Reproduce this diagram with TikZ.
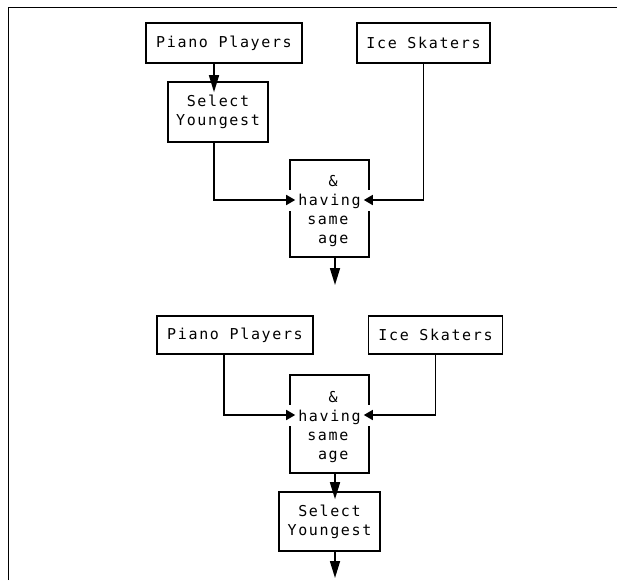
\documentclass[tikz,border=0pt]{standalone}
\usepackage{fontspec}
\setmonofont[LetterSpace=11]{DejaVu Sans Mono}
\usetikzlibrary{arrows.meta}

\begin{document}
\begin{tikzpicture}[x=1pt,y=-1pt,
    box/.style={draw,line width=1.6pt,inner sep=0pt,font=\fontsize{15}{19}\selectfont\ttfamily},
    agetext/.style={inner sep=0pt,align=left,font=\fontsize{15}{19}\selectfont\ttfamily},
    flow/.style={line width=1.6pt,-{Triangle[length=17pt,width=10pt]}},
    side/.style={line width=1.6pt,-{Triangle[length=9pt,width=10pt]},shorten >=-6pt}]
    \useasboundingbox (0,0) rectangle (617,580);
    \draw[line width=1.6pt] (8.5,580) -- (8.5,7.5) -- (617,7.5);

    \node[box,minimum width=156pt,minimum height=40pt] (piano1) at (224,43) {Piano Players};
    \node[box,minimum width=133pt,minimum height=40pt] (skate1) at (423.5,43) {Ice Skaters};
    \node[box,align=center,minimum width=100pt,minimum height=60pt] (youngest1) at (218,112) {Select\\Youngest};
    \node[box,minimum width=79pt,minimum height=97pt] (same1) at (329.5,208.5) {};
    \fill[white] ([yshift=8.5pt]same1.west) ++(-2.5,-10.5) rectangle ++(5,21);
    \fill[white] ([yshift=8.5pt]same1.east) ++(-2.5,-10.5) rectangle ++(5,21);
    \node[agetext] (sametext1) at ([yshift=-3pt]same1.center) {\hphantom{hav}\&\\having\\\hphantom{h}same\\\hphantom{ha}age};
    \coordinate (out1) at (335,285);
    \draw[flow,shorten >=-11pt] ([xshift=-10pt]piano1.south) -- ([xshift=-10pt]piano1.south |- youngest1.north);
    \draw[side] ([xshift=-4pt]youngest1.south) |- ([yshift=8.5pt]same1.west);
    \draw[side] (skate1.south) |- ([yshift=8.5pt]same1.east);
    \draw[flow] ([xshift=5.5pt]same1.south) -- (out1);

    \node[box,minimum width=156pt,minimum height=38pt] (piano2) at (235,335) {Piano Players};
    \node[box,minimum width=134pt,minimum height=38pt] (skate2) at (435.5,335) {Ice Skaters};
    \node[box,minimum width=79pt,minimum height=98pt] (same2) at (329.5,424) {};
    \fill[white] ([yshift=9pt]same2.west) ++(-2.5,-10.5) rectangle ++(5,21);
    \fill[white] ([yshift=9pt]same2.east) ++(-2.5,-10.5) rectangle ++(5,21);
    \node[agetext] (sametext2) at ([yshift=-3pt]same2.center) {\hphantom{hav}\&\\having\\\hphantom{h}same\\\hphantom{ha}age};
    \node[box,align=center,minimum width=101pt,minimum height=59pt] (youngest2) at (329.5,521.5) {Select\\Youngest};
    \coordinate (out2) at (335,578);
    \draw[side] ([xshift=-11pt]piano2.south) |- ([yshift=9pt]same2.west);
    \draw[side] (skate2.south) |- ([yshift=9pt]same2.east);
    \draw[flow,shorten >=-8pt] ([xshift=5.5pt]same2.south) -- ([xshift=5.5pt]same2.south |- youngest2.north);
    \draw[flow] ([xshift=5.5pt]youngest2.south) -- (out2);
\end{tikzpicture}
\end{document}
